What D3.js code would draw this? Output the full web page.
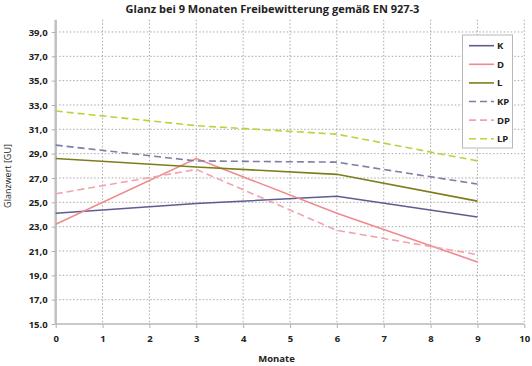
<!DOCTYPE html>
<html><head><meta charset="utf-8">
<script src="https://cdn.jsdelivr.net/npm/d3@7"></script>
<style>
body{margin:0;background:#fff;}
text{font-family:"Open Sans","Liberation Sans",Arial,sans-serif;}
</style></head>
<body><svg id="c" width="532" height="366"></svg>
<script>
const months = [0, 3, 6, 9];
const seriesNames = ["K", "D", "L", "KP", "DP", "LP"];
const valuesK  = [24.1, 24.9, 25.5, 23.8];
const valuesD  = [23.2, 28.6, 24.1, 20.1];
const valuesL  = [28.6, 27.9, 27.3, 25.1];
const valuesKP = [29.7, 28.4, 28.3, 26.5];
const valuesDP = [25.7, 27.7, 22.7, 20.7];
const valuesLP = [32.5, 31.3, 30.6, 28.4];
const xTicks = [0,1,2,3,4,5,6,7,8,9,10];
const yTicks = [15,17,19,21,23,25,27,29,31,33,35,37,39];
const yTickLabels = ["15.0","17,0","19,0","21,0","23,0","25,0","27,0","29,0","31,0","33,0","35,0","37,0","39,0"];

const seriesValues = [valuesK, valuesD, valuesL, valuesKP, valuesDP, valuesLP];
const colors = ["#5f5c91", "#f08a8e", "#7d7d1c", "#7f7ea3", "#f2a3ad", "#b9d43a"];
const dashed = [false, false, false, true, true, true];

const svg = d3.select("#c");
const L = 55.7, R = 524.3, T = 19.8, B = 324;
const x = d3.scaleLinear().domain([0,10]).range([L,R]);
const y = d3.scaleLinear().domain([15,40]).range([B,T]);

// grid
const g = svg.append("g");
g.selectAll("line.h").data(yTicks.filter(d=>d>15)).join("line")
  .attr("x1",L).attr("x2",R).attr("y1",d=>y(d)).attr("y2",d=>y(d))
  .attr("stroke","#a8a8a8").attr("stroke-width",1).attr("stroke-dasharray","1.5,2");
g.selectAll("line.v").data(xTicks.filter(d=>d>0)).join("line")
  .attr("x1",d=>x(d)).attr("x2",d=>x(d)).attr("y1",T).attr("y2",B)
  .attr("stroke","#a8a8a8").attr("stroke-width",1).attr("stroke-dasharray","1.5,2");

// axes
const yAxis = d3.axisLeft(y).tickValues(yTicks).tickSize(4).tickFormat((d,i)=>yTickLabels[i]);
const ya = svg.append("g").attr("transform",`translate(${L},0)`).call(yAxis);
ya.select(".domain").attr("stroke","#c0c0c0").attr("stroke-width",2.5).attr("d",`M0,${T}V${B}`);
ya.selectAll(".tick line").attr("stroke","#b0b0b0");
ya.selectAll("text").attr("font-size",9.5).attr("font-weight","bold").attr("fill","#222").attr("x",-8);

const xAxis = d3.axisBottom(x).tickValues(xTicks).tickSize(4).tickFormat(d=>d);
const xa = svg.append("g").attr("transform",`translate(0,${B})`).call(xAxis);
xa.select(".domain").attr("stroke","#b8b8b8").attr("stroke-width",1.5).attr("d",`M${L},0H${R}`);
xa.selectAll(".tick line").attr("stroke","#b0b0b0");
xa.selectAll("text").attr("font-size",9.5).attr("font-weight","bold").attr("fill","#222").attr("y",11);

// lines
const line = d3.line().x((d,i)=>x(months[i])).y(d=>y(d));
seriesValues.forEach((vals,i)=>{
  svg.append("path").attr("d",line(vals)).attr("fill","none")
    .attr("stroke",colors[i]).attr("stroke-width",1.6)
    .attr("stroke-dasharray",dashed[i]?"7,4":null);
});

// legend
const lg = svg.append("g");
lg.append("rect").attr("x",462.5).attr("y",35).attr("width",50).attr("height",113)
  .attr("fill","#fff").attr("stroke","#b8b8b8").attr("stroke-width",1);
seriesNames.forEach((n,i)=>{
  const yy = 45.7 + i*18.6;
  lg.append("line").attr("x1",469).attr("x2",494).attr("y1",yy).attr("y2",yy)
    .attr("stroke",colors[i]).attr("stroke-width",1.6).attr("stroke-dasharray",dashed[i]?"7,4":null);
  lg.append("text").attr("x",497).attr("y",yy+3.5).attr("font-size",9.5).attr("font-weight","bold")
    .attr("fill","#222").text(n);
});

// titles
svg.append("text").attr("x",272.5).attr("y",13).attr("text-anchor","middle")
  .attr("font-size",11).attr("font-weight","bold").attr("fill","#222")
  .text("Glanz bei 9 Monaten Freibewitterung gemäß EN 927-3");
svg.append("text").attr("x",276.5).attr("y",362).attr("text-anchor","middle")
  .attr("font-size",9.5).attr("font-weight","bold").attr("fill","#222").text("Monate");
svg.append("text").attr("transform","translate(11,176) rotate(-90)").attr("text-anchor","middle")
  .attr("font-size",9).attr("fill","#222").text("Glanzwert  [GU]");
</script></body></html>
